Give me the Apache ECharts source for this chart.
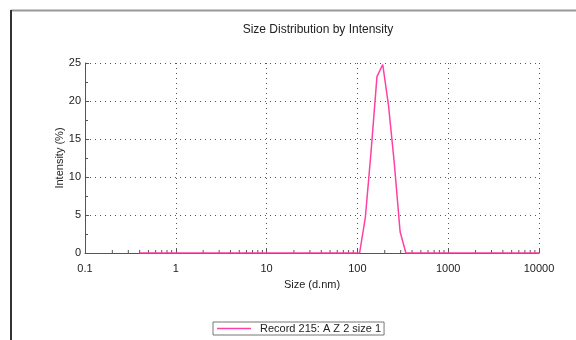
<!DOCTYPE html>
<html style="height: 100%">
<head>
    <meta charset="utf-8">
</head>
<body style="height: 100%; margin: 0; background: #fff">
<div id="container" style="width: 576px; height: 340px"></div>
<script src="https://cdn.jsdelivr.net/npm/echarts@6/dist/echarts.min.js"></script>
<script type="text/javascript">
    // values
    var sizes = [0.4, 105.7, 122.4, 141.8, 164.2, 190.1, 220.2, 255.0, 295.3, 342.0, 10000];
    var intensity = [0, 0, 4.7, 13.5, 23.2, 24.8, 19.4, 11.8, 2.8, 0, 0];
    var seriesName = 'Record 215: A Z 2 size 1';

    // minor ticks of the log axis (2..9 in every decade)
    var minorTicks = [];
    [0.1, 1, 10, 100, 1000].forEach(function (d) {
        for (var k = 2; k <= 9; k++) minorTicks.push(+(d * k).toPrecision(3));
    });

    var font = 'Liberation Sans, Arial, sans-serif';
    var pink = '#ff40a4';
    var dom = document.getElementById("container");
    var myChart = echarts.init(dom);

    var option = {
        animation: false,
        title: {
            text: 'Size Distribution by Intensity',
            left: 313, top: 19, textAlign: 'center',
            textStyle: {fontFamily: 'Liberation Sans Narrow, Arial Narrow, sans-serif', fontSize: 12, fontWeight: 'normal', color: '#222'}
        },
        grid: {left: 85, right: 37, top: 63, bottom: 87},
        legend: {
            left: 213, top: 322,
            padding: [1, 3, 1, 4],
            borderColor: '#777', borderWidth: 1,
            icon: 'rect',
            itemWidth: 34, itemHeight: 1.5,
            textStyle: {fontFamily: font, fontSize: 11, color: '#222', padding: [0, 0, 0, 4]},
            data: [seriesName]
        },
        xAxis: {
            type: 'log', logBase: 10, min: 0.1, max: 10000,
            name: 'Size (d.nm)', nameLocation: 'middle', nameGap: 26,
            nameMoveOverlap: false,
            nameTextStyle: {fontFamily: font, fontSize: 11, color: '#222'},
            axisLine: {lineStyle: {color: '#555'}},
            axisTick: {inside: true, length: 4, lineStyle: {color: '#555'}},
            axisLabel: {
                fontFamily: font, fontSize: 11, color: '#222', margin: 10,
                formatter: function (v) { return String(v); }
            },
            splitLine: {show: true, lineStyle: {color: '#555', type: [1, 4]}}
        },
        yAxis: {
            type: 'value', min: 0, max: 25, interval: 5,
            name: 'Intensity (%)', nameLocation: 'middle', nameGap: 20,
            nameMoveOverlap: false,
            nameTextStyle: {fontFamily: font, fontSize: 11, color: '#222'},
            axisLine: {show: true, lineStyle: {color: '#555'}},
            axisTick: {show: true, inside: true, length: 4, lineStyle: {color: '#555'}},
            minorTick: {show: true, splitNumber: 2, length: 3, lineStyle: {color: '#555'}},
            axisLabel: {fontFamily: font, fontSize: 11, color: '#222', margin: 4},
            splitLine: {show: true, lineStyle: {color: '#555', type: [1, 4]}}
        },
        series: [
            {
                type: 'custom',
                silent: true,
                data: minorTicks,
                renderItem: function (params, api) {
                    var p = api.coord([api.value(0), 0]);
                    return {
                        type: 'line',
                        shape: {x1: p[0], y1: p[1], x2: p[0], y2: p[1] - 3},
                        style: {stroke: '#555', lineWidth: 1}
                    };
                },
                encode: {x: 0}
            },
            {
                name: seriesName,
                type: 'line',
                symbol: 'none',
                lineStyle: {color: pink, width: 1.5},
                itemStyle: {color: pink},
                data: sizes.map(function (s, i) { return [s, intensity[i]]; }),
                z: 5
            }
        ],
        graphic: [
            {type: 'line', shape: {x1: 11, y1: 10.5, x2: 576, y2: 10.5}, style: {stroke: '#999', lineWidth: 2}},
            {type: 'line', shape: {x1: 11, y1: 10, x2: 11, y2: 340}, style: {stroke: '#333', lineWidth: 2}}
        ]
    };
    myChart.setOption(option, true);
</script>
</body>
</html>
